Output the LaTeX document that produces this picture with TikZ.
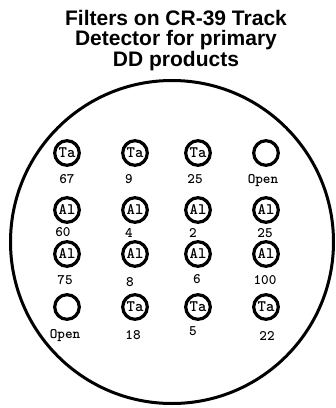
\documentclass[tikz,border=0pt]{standalone}
\usepackage{fontspec}
\setmainfont{Liberation Sans}
\begin{document}
\begin{tikzpicture}[x=1pt,y=-1pt,
  titletext/.style={anchor=base, inner sep=0pt, font=\bfseries\fontsize{21}{21}\selectfont},
  filt/.style={circle, draw, line width=3.2pt, minimum size=24.6pt, inner sep=0pt, font=\ttfamily\bfseries\fontsize{16}{16}\selectfont},
  lbl/.style={anchor=base, inner sep=0pt, font=\ttfamily\bfseries\fontsize{14.5}{14.5}\selectfont},
  disk/.style={circle, draw, line width=3pt, minimum size=323pt, inner sep=0pt}]
\useasboundingbox (0,0) rectangle (336,408);
\fill[white] (0,0) rectangle (336,408);
% title
\node[titletext] (t1) at (176,25) {Filters on CR-39 Track};
\node[titletext] (t2) at (176,45.5) {Detector for primary};
\node[titletext] (t3) at (176,66) {DD products};
% detector disk
\node[disk] (disk) at (172,242) {};
% row 1
\node[filt] (f11) at (67,153) {Ta};
\node[filt] (f12) at (135,153) {Ta};
\node[filt] (f13) at (198,153) {Ta};
\node[filt] (f14) at (266,153) {};
\node[lbl] (l11) at (67,183) {67};
\node[lbl] (l12) at (129,183) {9};
\node[lbl] (l13) at (195,183) {25};
\node[lbl] (l14) at (263,183) {Open};
% row 2
\node[filt] (f21) at (67,210) {Al};
\node[filt] (f22) at (135,210) {Al};
\node[filt] (f23) at (198,210) {Al};
\node[filt] (f24) at (266,210) {Al};
\node[lbl] (l21) at (63,236) {60};
\node[lbl] (l22) at (129,237) {4};
\node[lbl] (l23) at (193,237) {2};
\node[lbl] (l24) at (265,237) {25};
% row 3
\node[filt] (f31) at (67,254) {Al};
\node[filt] (f32) at (135,254) {Al};
\node[filt] (f33) at (198,254) {Al};
\node[filt] (f34) at (266,254) {Al};
\node[lbl] (l31) at (65,284) {75};
\node[lbl] (l32) at (130,286) {8};
\node[lbl] (l33) at (197,283) {6};
\node[lbl] (l34) at (265,284) {100};
% row 4
\node[filt] (f41) at (67,307) {};
\node[filt] (f42) at (135,307) {Ta};
\node[filt] (f43) at (198,307) {Ta};
\node[filt] (f44) at (266,307) {Ta};
\node[lbl] (l41) at (65,338) {Open};
\node[lbl] (l42) at (133,339) {18};
\node[lbl] (l43) at (193,335) {5};
\node[lbl] (l44) at (267,340) {22};
\end{tikzpicture}
\end{document}
